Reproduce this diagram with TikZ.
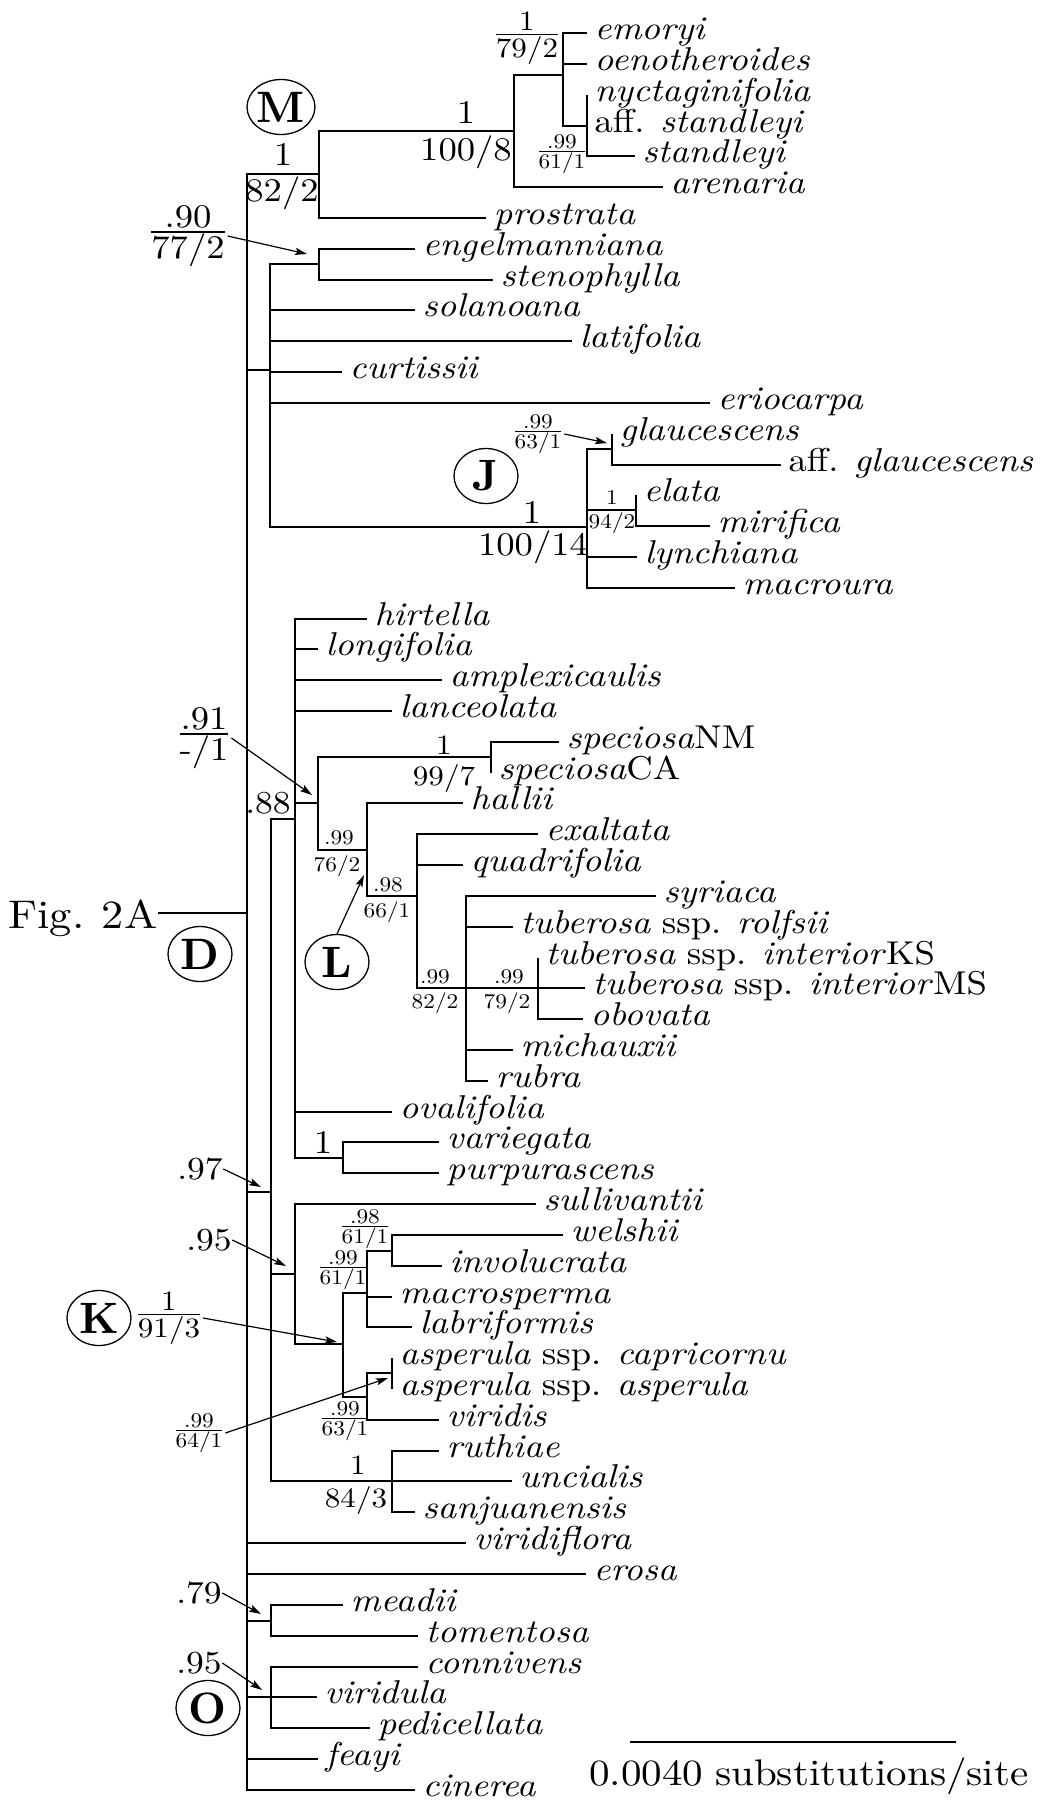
\documentclass[tikz,border=0pt]{standalone}
\usepackage{amsmath}
\usepackage{fontspec}
\setmainfont{lmroman10-regular.otf}[ItalicFont=lmroman10-italic.otf, BoldFont=lmroman10-bold.otf, BoldItalicFont=lmroman10-bolditalic.otf, FakeStretch=1.11, WordSpace=0.85]
\newfontfamily\cladefont{lmroman10-bold.otf}
\usetikzlibrary{arrows.meta, shapes.geometric}
\newcommand{\supfrac}[2]{$\genfrac{}{}{0.6pt}{1}{\mbox{#1}}{\mbox{#2}}$}

\begin{document}
\begin{tikzpicture}[
      x=0.5pt, y=-0.5pt, line width=0.65pt,
      tax/.style={anchor=west, font=\fontsize{16.5}{16.5}\selectfont\itshape, inner xsep=3.5pt, inner ysep=0pt, text height=10.5pt, text depth=4pt},
      bigsup/.style={font=\fontsize{16.5}{16.5}\selectfont, inner sep=0pt},
      dotsup/.style={font=\fontsize{16}{16}\selectfont, inner sep=0pt},
      medsup/.style={font=\fontsize{14}{14}\selectfont, inner sep=0pt},
      smallsup/.style={font=\fontsize{10.5}{10.5}\selectfont, inner sep=0pt},
      clade/.style={ellipse, draw, line width=0.65pt, minimum width=32pt, minimum height=27.5pt, inner sep=0pt, font=\cladefont\fontsize{22}{22}\selectfont},
      figlbl/.style={font=\fontsize{20}{20}\selectfont, inner sep=0pt},
      scalelbl/.style={font=\fontsize{18.5}{18.5}\selectfont, inner sep=0pt},
      arr/.style={-{Stealth[length=6pt, width=3.6pt, inset=1.2pt]}, line width=0.6pt}
  ]
    \useasboundingbox (0,0) rectangle (1050,1801);

    \coordinate (root) at (247,913);
    \coordinate (nM) at (319,174);
    \coordinate (n100) at (514,131);
    \coordinate (n79a) at (563,75);
    \coordinate (n61a) at (587,126);
    \coordinate (nA) at (270,370);
    \coordinate (nE) at (319,264);
    \coordinate (nJ) at (587,527);
    \coordinate (nG) at (612,449);
    \coordinate (nEl) at (636,510);
    \coordinate (nC) at (271,1192);
    \coordinate (n88) at (295,819);
    \coordinate (n91) at (318,803);
    \coordinate (nS) at (491,757);
    \coordinate (n76) at (367,850);
    \coordinate (n98) at (417,896);
    \coordinate (n82) at (466,988);
    \coordinate (n79b) at (538,988);
    \coordinate (nV) at (343,1158);
    \coordinate (n95) at (295,1274);
    \coordinate (nK) at (343,1344);
    \coordinate (n99a) at (367,1293);
    \coordinate (n98b) at (392,1251);
    \coordinate (n99b) at (367,1397);
    \coordinate (nAsp) at (392,1373);
    \coordinate (nR) at (392,1481);
    \coordinate (n79) at (271,1621);
    \coordinate (nO) at (271,1697);

    \node[tax] (emoryi) at (587,33) {emoryi};
    \node[tax] (oenoth) at (587,64) {oenotheroides};
    \node[tax] (nyctag) at (587,95) {nyctaginifolia};
    \node[tax] (affstan) at (587,126) {\textup{aff.} standleyi};
    \node[tax] (standl) at (635,156) {standleyi};
    \node[tax] (arenar) at (663,187) {arenaria};
    \node[tax] (prostr) at (486,218) {prostrata};
    \node[tax] (engelm) at (415,249) {engelmanniana};
    \node[tax] (stenop) at (493,280) {stenophylla};
    \node[tax] (solano) at (415,310) {solanoana};
    \node[tax] (latifo) at (572,341) {latifolia};
    \node[tax] (curtis) at (342,372) {curtissii};
    \node[tax] (erioca) at (710,403) {eriocarpa};
    \node[tax] (glauce) at (612,434) {glaucescens};
    \node[tax] (affgla) at (781,465) {\textup{aff.} glaucescens};
    \node[tax] (elata) at (636,495) {elata};
    \node[tax] (mirifi) at (710,526) {mirifica};
    \node[tax] (lynchi) at (637,557) {lynchiana};
    \node[tax] (macrou) at (735,588) {macroura};
    \node[tax] (hirtel) at (367,619) {hirtella};
    \node[tax] (longif) at (318,649) {longifolia};
    \node[tax] (amplex) at (442,680) {amplexicaulis};
    \node[tax] (lanceo) at (392,711) {lanceolata};
    \node[tax] (specNM) at (559,742) {speciosa\textup{NM}};
    \node[tax] (specCA) at (491,773) {speciosa\textup{CA}};
    \node[tax] (hallii) at (463,803) {hallii};
    \node[tax] (exalta) at (538,834) {exaltata};
    \node[tax] (quadri) at (463,865) {quadrifolia};
    \node[tax] (syriac) at (656,896) {syriaca};
    \node[tax] (rolfsi) at (513,927) {tuberosa \textup{ssp.} rolfsii};
    \node[tax] (intKS) at (538,958) {tuberosa \textup{ssp.} interior\textup{KS}};
    \node[tax] (intMS) at (585,988) {tuberosa \textup{ssp.} interior\textup{MS}};
    \node[tax] (obovat) at (583,1019) {obovata};
    \node[tax] (michau) at (513,1050) {michauxii};
    \node[tax] (rubra) at (488,1081) {rubra};
    \node[tax] (ovalif) at (392,1112) {ovalifolia};
    \node[tax] (varieg) at (439,1142) {variegata};
    \node[tax] (purpur) at (439,1173) {purpurascens};
    \node[tax] (sulliv) at (536,1204) {sullivantii};
    \node[tax] (welshi) at (563,1235) {welshii};
    \node[tax] (involu) at (442,1266) {involucrata};
    \node[tax] (macros) at (392,1297) {macrosperma};
    \node[tax] (labrif) at (412,1327) {labriformis};
    \node[tax] (aspcap) at (392,1358) {asperula \textup{ssp.} capricornu};
    \node[tax] (aspasp) at (392,1389) {asperula \textup{ssp.} asperula};
    \node[tax] (viridi) at (439,1420) {viridis};
    \node[tax] (ruthia) at (439,1451) {ruthiae};
    \node[tax] (uncial) at (512,1481) {uncialis};
    \node[tax] (sanjua) at (415,1512) {sanjuanensis};
    \node[tax] (virfl) at (466,1543) {viridiflora};
    \node[tax] (erosa) at (586,1574) {erosa};
    \node[tax] (meadii) at (343,1605) {meadii};
    \node[tax] (toment) at (418,1636) {tomentosa};
    \node[tax] (conniv) at (418,1667) {connivens};
    \node[tax] (viridu) at (317,1697) {viridula};
    \node[tax] (pedice) at (370,1728) {pedicellata};
    \node[tax] (feayi) at (318,1759) {feayi};
    \node[tax] (ciner) at (415,1790) {cinerea};

    \draw (root) |- (nM) (root) |- (nA) (root) |- (nC) (root) |- (virfl.west) (root) |- (erosa.west) (root) |- (n79) (root) |- (nO) (root) |- (feayi.west) (root) |- (ciner.west);
    \draw (nM) |- (n100) (nM) |- (prostr.west);
    \draw (n100) |- (n79a) (n100) |- (arenar.west);
    \draw (n79a) |- (emoryi.west) (n79a) |- (oenoth.west) (n79a) |- (n61a);
    \draw (n61a) |- (nyctag.west) (n61a) |- (standl.west);
    \draw (nA) |- (nE) (nA) |- (solano.west) (nA) |- (latifo.west) (nA) |- (curtis.west) (nA) |- (erioca.west) (nA) |- (nJ);
    \draw (nE) |- (engelm.west) (nE) |- (stenop.west);
    \draw (nJ) |- (nG) (nJ) |- (nEl) (nJ) |- (lynchi.west) (nJ) |- (macrou.west);
    \draw (nG) |- (glauce.west) (nG) |- (affgla.west);
    \draw (nEl) |- (elata.west) (nEl) |- (mirifi.west);
    \draw (nC) |- (n88) (nC) |- (n95) (nC) |- (nR);
    \draw (n88) |- (hirtel.west) (n88) |- (longif.west) (n88) |- (amplex.west) (n88) |- (lanceo.west) (n88) |- (n91) (n88) |- (ovalif.west) (n88) |- (nV);
    \draw (n91) |- (nS) (n91) |- (n76);
    \draw (nS) |- (specNM.west) (nS) |- (specCA.west);
    \draw (n76) |- (hallii.west) (n76) |- (n98);
    \draw (n98) |- (exalta.west) (n98) |- (quadri.west) (n98) |- (n82);
    \draw (n82) |- (syriac.west) (n82) |- (rolfsi.west) (n82) |- (n79b) (n82) |- (michau.west) (n82) |- (rubra.west);
    \draw (n79b) |- (intKS.west) (n79b) |- (intMS.west) (n79b) |- (obovat.west);
    \draw (nV) |- (varieg.west) (nV) |- (purpur.west);
    \draw (n95) |- (sulliv.west) (n95) |- (nK);
    \draw (nK) |- (n99a) (nK) |- (n99b);
    \draw (n99a) |- (n98b) (n99a) |- (macros.west) (n99a) |- (labrif.west);
    \draw (n98b) |- (welshi.west) (n98b) |- (involu.west);
    \draw (n99b) |- (nAsp) (n99b) |- (viridi.west);
    \draw (nAsp) |- (aspcap.west) (nAsp) |- (aspasp.west);
    \draw (nR) |- (ruthia.west) (nR) |- (uncial.west) (nR) |- (sanjua.west);
    \draw (n79) |- (meadii.west) (n79) |- (toment.west);
    \draw (nO) |- (conniv.west) (nO) |- (viridu.west) (nO) |- (pedice.west);

    \node[figlbl, anchor=base east] (fig) at (158,928) {Fig. 2A};
    \draw (fig.east |- root) -- (root);

    \node[clade] (cM) at (281,107) {M};
    \node[clade] (cJ) at (486,476) {J};
    \node[clade] (cD) at (200,954) {D};
    \node[clade] (cL) at (337,962) {L};
    \node[clade] (cK) at (99,1318) {K};
    \node[clade] (cO) at (208,1708) {O};

    \node[bigsup] (sM1) at (283,155) {1};
    \node[bigsup] (sM2) at (282,193) {82/2};
    \node[bigsup] (s100a) at (466,113) {1};
    \node[bigsup] (s100b) at (466,152) {100/8};
    \node[medsup] (s79a) at (527,38) {\supfrac{1}{79/2}};
    \node[smallsup] (s61a) at (562,154) {\supfrac{.99}{61/1}};
    \node[bigsup] (s90) at (188,236) {\supfrac{.90}{77/2}};
    \node[smallsup] (s63a) at (538,434) {\supfrac{.99}{63/1}};
    \node[bigsup] (sJ1) at (532,512) {1};
    \node[bigsup] (sJ2) at (533,547) {100/14};
    \node[smallsup] (s94a) at (612,497) {1};
    \node[smallsup] (s94b) at (612,523) {94/2};
    \node[bigsup] (s91) at (204,738) {\supfrac{.91}{-/1}};
    \node[dotsup] (s88) at (268,803) {.88};
    \node[medsup] (sSa) at (444,745) {1};
    \node[medsup] (sSb) at (444,778) {99/7};
    \node[smallsup] (s76a) at (339,838) {.99};
    \node[smallsup] (s76b) at (337,866) {76/2};
    \node[smallsup] (s66a) at (388,885) {.98};
    \node[smallsup] (s66b) at (387,912) {66/1};
    \node[smallsup] (s82a) at (435,977) {.99};
    \node[smallsup] (s82b) at (435,1003) {82/2};
    \node[smallsup] (s79ba) at (509,977) {.99};
    \node[smallsup] (s79bb) at (507,1003) {79/2};
    \node[bigsup] (sV) at (323,1142) {1};
    \node[dotsup] (s97) at (200,1169) {.97};
    \node[dotsup] (s95) at (209,1240) {.95};
    \node[smallsup] (s98b) at (365,1229) {\supfrac{.98}{61/1}};
    \node[smallsup] (s99c) at (343,1270) {\supfrac{.99}{61/1}};
    \node[medsup] (sK) at (169,1318) {\supfrac{1}{91/3}};
    \node[smallsup] (s63b) at (345,1421) {\supfrac{.99}{63/1}};
    \node[smallsup] (s64) at (199,1433) {\supfrac{.99}{64/1}};
    \node[medsup] (sR1) at (358,1465) {1};
    \node[medsup] (sR2) at (356,1500) {84/3};
    \node[dotsup] (s79) at (199,1593) {.79};
    \node[dotsup] (s95b) at (199,1663) {.95};

    \coordinate (a90) at (307,254);
    \coordinate (a63) at (607,443);
    \coordinate (a91) at (312,795);
    \coordinate (aL) at (364,875);
    \coordinate (a97) at (261,1187);
    \coordinate (a95) at (286,1266);
    \coordinate (aK) at (337,1342);
    \coordinate (a64) at (388,1378);
    \coordinate (a79) at (261,1614);
    \coordinate (a95b) at (262,1690);
    \draw[arr] (s90.east) -- (a90);
    \draw[arr] (s63a.east) -- (a63);
    \draw[arr] (s91.east) -- (a91);
    \draw[arr] (cL.north) -- (aL);
    \draw[arr] (s97.east) -- (a97);
    \draw[arr] (s95.east) -- (a95);
    \draw[arr] (sK.east) -- (aK);
    \draw[arr] (s64.east) -- (a64);
    \draw[arr] (s79.east) -- (a79);
    \draw[arr] (s95b.east) -- (a95b);

    \coordinate (sbL) at (630,1742);
    \coordinate (sbR) at (956,1742);
    \draw (sbL) -- (sbR);
    \node[scalelbl] (sblbl) at (809,1776) {0.0040 substitutions/site};
\end{tikzpicture}
\end{document}
